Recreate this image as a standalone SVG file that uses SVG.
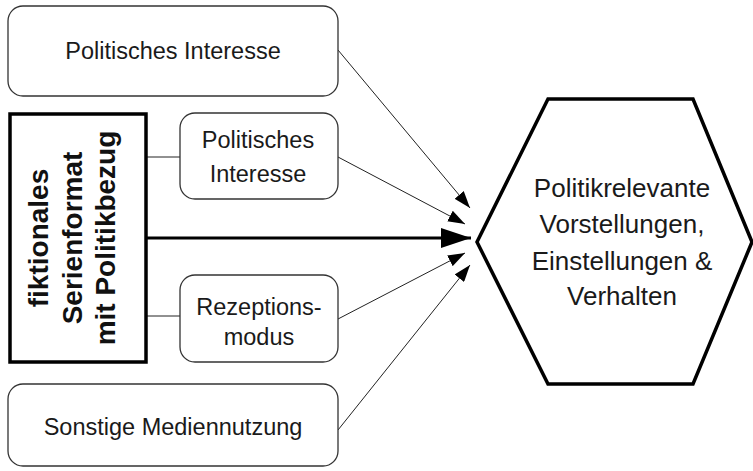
<svg xmlns="http://www.w3.org/2000/svg" width="753" height="471" viewBox="0 0 753 471">
<style>
.box{fill:#fff;stroke:#333;stroke-width:1.3}
.t{font-family:"Liberation Sans",Arial,sans-serif;font-size:23.5px;fill:#1a1a1a;text-anchor:middle}
.h{font-size:26px}
.b{font-family:"Liberation Sans",Arial,sans-serif;font-size:28px;font-weight:bold;fill:#111;text-anchor:middle}
.ln{stroke:#222;stroke-width:1;fill:none}
</style>
<defs>
<marker id="ah" markerUnits="userSpaceOnUse" markerWidth="18" markerHeight="12" refX="17" refY="6" orient="auto">
<path d="M0,0 L17,6 L0,12 Z" fill="#000"/>
</marker>
<marker id="ahb" markerUnits="userSpaceOnUse" markerWidth="31" markerHeight="20" refX="30" refY="10" orient="auto">
<path d="M0,0 L30,10 L0,20 Z" fill="#000"/>
</marker>
</defs>
<rect width="753" height="471" fill="#fff"/>
<g id="connectors">
<line class="ln" x1="146" y1="157" x2="180" y2="157"/>
<line class="ln" x1="146" y1="316" x2="180" y2="316"/>
<line class="ln" x1="338" y1="50" x2="470" y2="208" marker-end="url(#ah)"/>
<line class="ln" x1="338" y1="157" x2="465" y2="224" marker-end="url(#ah)"/>
<line x1="146" y1="238" x2="471" y2="238" stroke="#000" stroke-width="3" marker-end="url(#ahb)"/>
<line class="ln" x1="338" y1="319" x2="465" y2="253" marker-end="url(#ah)"/>
<line class="ln" x1="338" y1="430" x2="470" y2="265" marker-end="url(#ah)"/>
</g>
<g id="top">
<rect class="box" x="8" y="6" width="330" height="90" rx="15"/>
<text class="t" x="173" y="59">Politisches Interesse</text>
</g>
<g id="format">
<rect x="10" y="114" width="136" height="248" fill="#fff" stroke="#000" stroke-width="3.5"/>
<g transform="translate(77,238) rotate(-90)">
<text class="b" x="0" y="-29">fiktionales</text>
<text class="b" x="0" y="5">Serienformat</text>
<text class="b" x="0" y="38">mit Politikbezug</text>
</g>
</g>
<g id="interesse">
<rect class="box" x="180" y="113" width="158" height="86" rx="15"/>
<text class="t" x="258" y="148">Politisches</text>
<text class="t" x="258" y="182">Interesse</text>
</g>
<g id="rezeption">
<rect class="box" x="180" y="275" width="158" height="87" rx="15"/>
<text class="t" x="259" y="315">Rezeptions-</text>
<text class="t" x="259" y="345">modus</text>
</g>
<g id="sonstige">
<rect class="box" x="8" y="384" width="330" height="82" rx="15"/>
<text class="t" x="173" y="435">Sonstige Mediennutzung</text>
</g>
<g id="outcome">
<polygon points="548,99 693,99 752,242 693,384 548,384 477,242" fill="#fff" stroke="#000" stroke-width="3.5" stroke-linejoin="miter"/>
<text class="t h" x="622" y="197">Politikrelevante</text>
<text class="t h" x="622" y="233">Vorstellungen,</text>
<text class="t h" x="622" y="270">Einstellungen &amp;</text>
<text class="t h" x="622" y="305">Verhalten</text>
</g>
</svg>
